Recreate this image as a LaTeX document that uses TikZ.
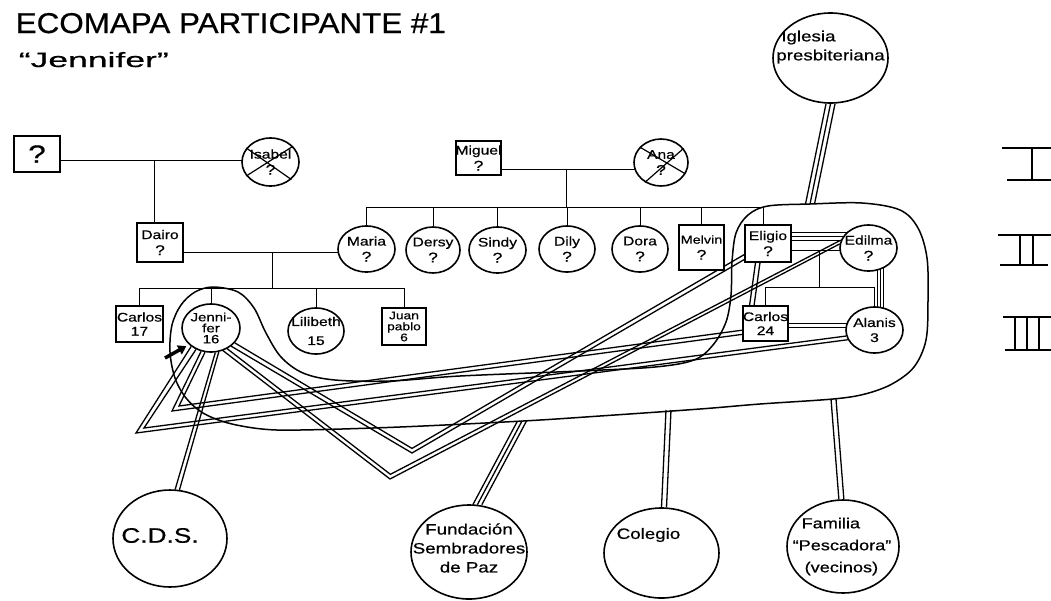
\documentclass[tikz,border=0pt]{standalone}
\usepackage{fontspec}
\setmainfont{Liberation Sans}
\newfontfamily\hand[FakeStretch=1.25, FakeBold=0.6]{Liberation Sans}
\usetikzlibrary{shapes.geometric,backgrounds,arrows.meta}
\newcommand\qmk[1][14]{{\fontsize{#1}{#1}\selectfont ?}}
\tikzset{
 pbox/.style={draw, fill=white, line width=1.6pt, rectangle, inner sep=0pt},
 pcir/.style={draw, fill=white, line width=1.6pt, ellipse, inner sep=0pt},
 lab/.style={font=\hand\fontsize{12.5}{16}\selectfont, align=center, inner sep=0pt},
 labbig/.style={font=\hand\fontsize{15}{19}\selectfont, align=center, inner sep=0pt},
 dbl/.style 2 args={postaction={draw, transform canvas={shift={(#1,#2)}}}},
 trp/.style 2 args={postaction={draw, transform canvas={shift={(#1,#2)}}},
                    postaction={draw, transform canvas={shift={(-#1,-#2)}}}},
 rel/.style={line width=1.3pt},
}
\begin{document}
\begin{tikzpicture}[x=1pt, y=-1pt, line width=1.5pt]
\useasboundingbox (0,0) rectangle (1051,600);

% ---- titles
\node[anchor=base west, inner sep=0pt, font=\hand] (t1) at (15,33) {\resizebox{430pt}{20pt}{ECOMAPA PARTICIPANTE \#1}};
\node[anchor=base west, inner sep=0pt, font=\hand] (t2) at (18,67) {\resizebox{150pt}{15pt}{“Jennifer”}};

% ---- generation I
\node[pbox, minimum width=46pt, minimum height=36pt] (q1) at (37,154) {};
\node[lab] at (q1) {\qmk[25]};
\node[pcir, minimum width=57pt, minimum height=48pt] (isa) at (270.5,162) {};
\node[lab] at (isa) {Isabel\\\qmk};
\draw[line width=1.2pt] (isa.150) -- (isa.-40) (isa.-150) -- (isa.35);
\node[pbox, minimum width=45pt, minimum height=34pt] (mig) at (478.5,158) {};
\node[lab] at (mig) {Miguel\\\qmk};
\node[pcir, minimum width=54pt, minimum height=47pt] (ana) at (661,162.5) {};
\node[lab] at (ana) {Ana\\\qmk};
\draw[line width=1.2pt] (ana.144) -- (ana.-25) (ana.-129) -- (ana.32);

% ---- generation II
\node[pbox, minimum width=46pt, minimum height=39pt] (dai) at (160,242.5) {};
\node[lab] at (dai) {Dairo\\\qmk};
\node[pcir, minimum width=57pt, minimum height=46pt] (mar) at (366.5,249) {};
\node[lab] at (mar) {Maria\\\qmk};
\node[pcir, minimum width=54pt, minimum height=46pt] (der) at (433,250) {};
\node[lab] at (der) {Dersy\\\qmk};
\node[pcir, minimum width=57pt, minimum height=46pt] (sin) at (497.5,250) {};
\node[lab] at (sin) {Sindy\\\qmk};
\node[pcir, minimum width=56pt, minimum height=46pt] (dil) at (567,249) {};
\node[lab] at (dil) {Dily\\\qmk};
\node[pcir, minimum width=56pt, minimum height=46pt] (dor) at (640,249) {};
\node[lab] at (dor) {Dora\\\qmk};
\node[pbox, minimum width=45pt, minimum height=45pt] (mel) at (701.5,247.5) {};
\node[lab, font=\hand\fontsize{11.5}{16}\selectfont] at (mel) {Melvin\\\qmk};
\node[pbox, minimum width=46pt, minimum height=37pt] (eli) at (768,243.5) {};
\node[lab] at (eli) {Eligio\\\qmk};
\node[pcir, minimum width=57pt, minimum height=46pt] (edi) at (868.5,248) {};
\node[lab] at (edi) {Edilma\\\qmk};

% ---- generation III
\node[pbox, minimum width=47pt, minimum height=36pt] (car17) at (139.5,324) {};
\node[lab, font=\hand\fontsize{12.5}{14}\selectfont] at (car17) {Carlos\\17};
\node[pcir, minimum width=58pt, minimum height=48pt] (jen) at (211,328) {};
\node[lab, font=\hand\fontsize{12}{11}\selectfont] at (jen) {Jenni-\\fer\\16};
\node[pcir, minimum width=56pt, minimum height=46pt] (lil) at (316,331) {};
\node[lab, font=\hand\fontsize{12.5}{14}\selectfont] at (lil) {Lilibeth\\[5pt]15};
\node[pbox, minimum width=44pt, minimum height=37pt] (jp) at (404,326.5) {};
\node[lab, font=\hand\fontsize{11}{11}\selectfont] at (jp) {Juan\\pablo\\6};
\node[pbox, minimum width=45pt, minimum height=35pt] (car24) at (765.5,323.5) {};
\node[lab, font=\hand\fontsize{12.5}{14}\selectfont] at (car24) {Carlos\\24};
\node[pcir, minimum width=57pt, minimum height=46pt] (ala) at (874.5,330) {};
\node[lab, font=\hand\fontsize{12.5}{15}\selectfont] at (ala) {Alanis\\3};

% ---- outside systems
\node[pcir, minimum width=115pt, minimum height=90pt] (ig) at (830.5,58) {};
\node[labbig, align=left, yshift=11pt] at (ig) {\hspace{5pt}Iglesia\\presbiteriana};
\node[pcir, minimum width=114pt, minimum height=97pt] (cds) at (170,538.5) {};
\node[lab, font=\hand\fontsize{21}{21}\selectfont, xshift=-10pt, yshift=3pt] at (cds) {C.D.S.};
\node[pcir, minimum width=116pt, minimum height=94pt] (fund) at (469,552) {};
\node[labbig, yshift=4pt] at (fund) {Fundación\\Sembradores\\de Paz};
\node[pcir, minimum width=115pt, minimum height=90pt] (col) at (661.5,553) {};
\node[labbig, xshift=-13pt, yshift=18pt] at (col) {Colegio};
\node[pcir, minimum width=112pt, minimum height=93pt] (fam) at (843,546.5) {};
\node[lab, font=\hand\fontsize{14.5}{22}\selectfont, align=left, xshift=-1pt] at (fam) {\hspace{9pt}Familia\\“Pescadora”\\\hspace{12pt}(vecinos)};

% ---- marker arrow
\coordinate (arS) at (165,358);
\draw[line width=3.5pt, -{Triangle[length=8pt,width=10pt]}, shorten >=3pt] (arS) -- (jen.-143);

% ---- legend
\draw[line width=1.6pt] (1002,148) -- (1051,148) (1032,148) -- (1032,180) (1007,180) -- (1051,180);
\draw[line width=1.6pt] (998,235) -- (1051,235) (1020,235) -- (1020,265) (1033,235) -- (1033,265) (1000,265) -- (1048,265);
\draw[line width=1.6pt] (1003,317) -- (1051,317) (1015,317) -- (1015,350) (1027,317) -- (1027,350) (1039,317) -- (1039,350) (1005,350) -- (1051,350);

% ---- coordinates
\coordinate (cq) at (154,160);
\coordinate (cd) at (272,252.5);
\coordinate (sibA) at (0,288);
\coordinate (cm) at (566,169);
\coordinate (sibB) at (0,207);
\coordinate (eD) at (763,207);
\coordinate (ce) at (819,250);
\coordinate (kid) at (0,287);
\coordinate (igE) at (810,204);
\coordinate (fuE) at (522,421);
\coordinate (coE) at (666,410);
\coordinate (faE) at (831,399);
\coordinate (vA1) at (136,433);
\coordinate (vA2) at (144,428);
\coordinate (vC1) at (172,411);
\coordinate (vC2) at (179,406);
\coordinate (vD1) at (390,479);
\coordinate (vD2) at (390.4,474.3);
\coordinate (vE1) at (412,453);
\coordinate (vE2) at (412,448.4);
\coordinate (qr) at ([yshift=-6pt]q1.east);
\coordinate (dr) at ([yshift=-10pt]dai.east);
\coordinate (mr) at ([yshift=-11pt]mig.east);
\coordinate (em) at ([yshift=-6.5pt]eli.east);
\coordinate (ea) at ([xshift=12pt]edi.center);

\begin{scope}[on background layer]
\fill[white] (0,0) rectangle (1051,600);
% enclosure
\draw[line width=1.5pt] plot[smooth cycle, tension=0.55] coordinates {
 (213,287) (238,292) (254,308) (266,333) (281,357) (303,373) (335,380) (390,381)
 (460,376) (580,371) (655,367) (694,360) (713,345) (726,322) (731,295) (732,262)
 (736,233) (748,215) (768,206) (810,204) (862,203) (900,210) (918,228) (927,258)
 (928,300) (926,340) (914,367) (892,384) (865,394) (833,399) (760,404) (700,409)
 (600,416) (523,421) (400,427) (300,430) (262,429) (228,423) (203,413) (186,398)
 (175,378) (170,352) (172,325) (181,305) (195,292)};
% family tree
\draw (qr) -- (qr -| isa.center);
\draw (cq) -- (cq |- dai.north);
\draw (dr) -- (dr -| mar.center);
\draw (cd) -- (cd |- sibA);
\draw (car17.north) -- (car17.north |- sibA) -- (jp.north |- sibA) -- (jp.north);
\draw (jen.north) -- (jen.north |- sibA);
\draw (lil.north) -- (lil.north |- sibA);
\draw (mr) -- (mr -| ana.center);
\draw (cm) -- (cm |- sibB);
\draw (mar.north) -- (mar.north |- sibB) -- (eD) -- (eD |- eli.north);
\foreach \n in {der,sin,dil,dor,mel} \draw (\n.north) -- (\n.north |- sibB);
\draw (em) -- (em -| edi.center);
\draw (ce) -- (ce |- kid);
\draw (car24.north) -- (car24.north |- kid) -| (ala.north);
% relationship lines in the family
\draw[rel, trp={0}{4}] (eli.17) -- (eli.17 -| edi.center);
\draw[rel, dbl={4.5}{0}] (eli.-123) -- (car24.131);
\draw[rel, dbl={0}{4}] (car24.east) -- (car24.east -| ala.center);
\draw[rel, trp={3}{0}] (ea) -- (ea |- ala.center);
% Jennifer's relationships
\draw[rel] (jen.-137) -- (vA1) -- (ala.-160);
\draw[rel] (jen.-125) -- (vA2) -- (ala.-168);
\draw[rel] (jen.-113) -- (vC1) -- (car24.-155);
\draw[rel] (jen.-104) -- (vC2) -- (car24.-164);
\draw[rel] (jen.-80) -- (cds.84);
\draw[rel] (jen.-72) -- (cds.79);
\draw[rel] (jen.-62) -- (vD1) -- (edi.172);
\draw[rel] (jen.-52) -- (vD2) -- (edi.164);
\draw[rel] (jen.-42) -- (vE1) -- (eli.-146);
\draw[rel] (jen.-32) -- (vE2) -- (eli.-155);
% systems
\draw[rel, trp={4.5}{0}] (ig.south) -- (igE);
\draw[rel, trp={4.5}{0}] (fund.80) -- (fuE);
\draw[rel, dbl={5}{0}] (col.north) -- (coE);
\draw[rel, dbl={5}{0}] (fam.95) -- (faE);
\end{scope}
\end{tikzpicture}
\end{document}
